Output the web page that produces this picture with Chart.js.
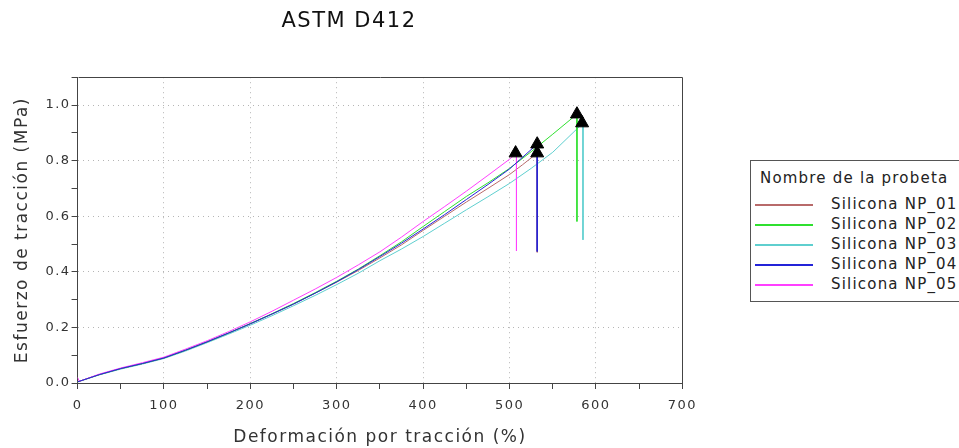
<!DOCTYPE html>
<html>
<head>
<meta charset="utf-8">
<script src="https://cdn.jsdelivr.net/npm/chart.js@4/dist/chart.umd.min.js"></script>
<style>
  html, body { margin: 0; padding: 0; background: #fff; overflow: hidden; }
  #wrap { position: relative; width: 959px; height: 448px; overflow: hidden; }
  #chartBox { position: absolute; left: 0; top: 0; width: 706px; height: 448px; }
  #legend {
    position: absolute; left: 750px; top: 160px; width: 222px; height: 142px;
    border: 1px solid #555; box-sizing: border-box;
    font-family: 'DejaVu Sans', sans-serif; font-size: 15px; letter-spacing: 1.2px; color: #222;
  }
  #legend .ttl { position: absolute; left: 9px; top: 7px; line-height: 20px; white-space: nowrap; }
  #legend .row { position: absolute; left: 0; width: 222px; height: 20px; }
  #legend .ln { position: absolute; left: 4px; top: 10px; width: 58px; height: 2px; }
  #legend .lb { position: absolute; left: 80px; top: 0; line-height: 20px; white-space: nowrap; }
</style>
</head>
<body>
<div id="wrap">
  <div id="chartBox"><canvas id="c"></canvas></div>
  <div id="legend"></div>
</div>
<script>
// nombres y colores de las probetas
const seriesNames = ['Silicona NP_01', 'Silicona NP_02', 'Silicona NP_03', 'Silicona NP_04', 'Silicona NP_05'];
const seriesColors = ['#b86a6a', '#2fe02f', '#5fcfcf', '#2323d8', '#ff40ff'];
// orden de dibujo (menor = encima)
const seriesOrder = [3, 2, 4, 1, 1];

// deformación (%) y esfuerzo (MPa)
const strainNP01 = [0, 25, 50, 75, 100, 125, 150, 175, 200, 225, 250, 275, 300, 325, 350, 375, 400, 425, 450, 475, 500, 515, 532, 532];
const stressNP01 = [0.004, 0.03, 0.052, 0.07, 0.09, 0.118, 0.148, 0.18, 0.213, 0.248, 0.284, 0.323, 0.363, 0.405, 0.45, 0.497, 0.549, 0.6, 0.651, 0.7, 0.75, 0.785, 0.827, 0.47];

const strainNP02 = [0, 25, 50, 75, 100, 125, 150, 175, 200, 225, 250, 275, 300, 325, 350, 375, 400, 425, 450, 475, 500, 525, 550, 578, 578];
const stressNP02 = [0.004, 0.03, 0.052, 0.07, 0.09, 0.118, 0.148, 0.18, 0.214, 0.249, 0.286, 0.325, 0.366, 0.41, 0.458, 0.508, 0.563, 0.617, 0.671, 0.72, 0.772, 0.832, 0.895, 0.967, 0.581];

const strainNP03 = [0, 25, 50, 75, 100, 125, 150, 175, 200, 225, 250, 275, 300, 325, 350, 375, 400, 425, 450, 475, 500, 525, 550, 585, 585];
const stressNP03 = [0.004, 0.029, 0.05, 0.068, 0.088, 0.115, 0.145, 0.176, 0.208, 0.242, 0.278, 0.315, 0.354, 0.395, 0.44, 0.482, 0.527, 0.575, 0.623, 0.67, 0.718, 0.772, 0.83, 0.935, 0.515];

const strainNP04 = [0, 25, 50, 75, 100, 125, 150, 175, 200, 225, 250, 275, 300, 325, 350, 375, 400, 425, 450, 475, 500, 532, 532];
const stressNP04 = [0.004, 0.03, 0.052, 0.07, 0.09, 0.118, 0.148, 0.18, 0.213, 0.248, 0.284, 0.323, 0.364, 0.408, 0.455, 0.503, 0.554, 0.606, 0.66, 0.714, 0.77, 0.859, 0.473];

const strainNP05 = [0, 2, 25, 50, 75, 100, 125, 150, 175, 200, 225, 250, 275, 300, 325, 350, 375, 400, 425, 450, 475, 500, 508, 508];
const stressNP05 = [0.02, 0.006, 0.032, 0.054, 0.073, 0.093, 0.122, 0.152, 0.185, 0.22, 0.258, 0.298, 0.338, 0.38, 0.425, 0.472, 0.525, 0.581, 0.635, 0.69, 0.747, 0.805, 0.827, 0.475];

// puntos de rotura (triángulos)
const breakStrain = [532, 578, 584, 532, 507];
const breakStress = [0.827, 0.967, 0.935, 0.859, 0.827];

const xTicksMax = 700;
const yTicksMax = 1.1;

const allStrain = [strainNP01, strainNP02, strainNP03, strainNP04, strainNP05];
const allStress = [stressNP01, stressNP02, stressNP03, stressNP04, stressNP05];

Chart.defaults.font.family = "'DejaVu Sans', sans-serif";
Chart.defaults.color = '#333';

const datasets = seriesNames.map((name, i) => ({
    label: name,
    data: allStrain[i].map((x, k) => ({ x: x, y: allStress[i][k] })),
    showLine: true,
    borderColor: seriesColors[i],
    backgroundColor: seriesColors[i],
    borderWidth: 1,
    pointRadius: 0,
    tension: 0,
    order: seriesOrder[i]
}));

datasets.push({
    label: 'rotura',
    data: breakStrain.map((x, k) => ({ x: x, y: breakStress[k] })),
    showLine: false,
    pointStyle: 'triangle',
    pointRadius: 7.5,
    backgroundColor: '#000',
    borderColor: '#000',
    borderWidth: 1,
    order: 0
});

// espaciado de letras del texto del lienzo
const spacing = {
    id: 'spacing',
    beforeUpdate(chart) { chart.ctx.letterSpacing = '1.5px'; },
    beforeDraw(chart) { chart.ctx.letterSpacing = '1.5px'; }
};

// marco superior y derecho del área de trazado
const frame = {
    id: 'frame',
    afterDraw(chart) {
        const a = chart.chartArea, ctx = chart.ctx;
        ctx.save();
        ctx.strokeStyle = '#444';
        ctx.lineWidth = 1;
        ctx.beginPath();
        ctx.moveTo(Math.round(a.left) + 0.5, Math.round(a.top) + 0.5);
        ctx.lineTo(Math.round(a.right) + 0.5, Math.round(a.top) + 0.5);
        ctx.lineTo(Math.round(a.right) + 0.5, Math.round(a.bottom) + 0.5);
        ctx.stroke();
        ctx.restore();
    }
};

const evenTenth = v => Math.round(v * 10) % 2 === 0;

new Chart(document.getElementById('c'), {
    type: 'scatter',
    data: { datasets: datasets },
    options: {
        responsive: true,
        maintainAspectRatio: false,
        animation: false,
        layout: { padding: { left: 12, right: 20, top: 6, bottom: 0 } },
        plugins: {
            legend: { display: false },
            tooltip: { enabled: false },
            title: {
                display: true,
                text: 'ASTM D412',
                color: '#111',
                font: { size: 21, weight: 'normal' },
                padding: { top: 3, bottom: 43 }
            }
        },
        scales: {
            x: {
                type: 'linear',
                min: 0,
                max: xTicksMax,
                ticks: {
                    stepSize: 50,
                    color: '#333',
                    font: { size: 13 },
                    padding: 9,
                    maxRotation: 0,
                    autoSkip: false,
                    callback: v => (v % 100 === 0 ? String(v) : '')
                },
                grid: {
                    color: c => (c.tick && c.tick.value % 100 === 0 && c.tick.value > 0 && c.tick.value < xTicksMax) ? '#b5b5b5' : 'rgba(0,0,0,0)',
                    tickColor: '#444',
                    tickLength: 6
                },
                border: { color: '#444', dash: [1, 4] },
                title: {
                    display: true,
                    text: 'Deformación por tracción (%)',
                    color: '#333',
                    font: { size: 17 },
                    padding: { top: 5, bottom: 0 }
                }
            },
            y: {
                min: 0,
                max: yTicksMax,
                ticks: {
                    stepSize: 0.1,
                    color: '#333',
                    font: { size: 13 },
                    padding: 1,
                    autoSkip: false,
                    callback: v => (evenTenth(v) ? v.toFixed(1) : '')
                },
                grid: {
                    color: c => (c.tick && evenTenth(c.tick.value) && c.tick.value > 0.05 && c.tick.value < 1.05) ? '#b5b5b5' : 'rgba(0,0,0,0)',
                    tickColor: '#444',
                    tickLength: 6
                },
                border: { color: '#444', dash: [1, 4] },
                title: {
                    display: true,
                    text: 'Esfuerzo de tracción (MPa)',
                    color: '#333',
                    font: { size: 17 },
                    padding: { top: 0, bottom: 12 }
                }
            }
        }
    },
    plugins: [spacing, frame]
});

// leyenda con recuadro
const legend = document.getElementById('legend');
const ttl = document.createElement('div');
ttl.className = 'ttl';
ttl.textContent = 'Nombre de la probeta';
legend.appendChild(ttl);
seriesNames.forEach((name, i) => {
    const row = document.createElement('div');
    row.className = 'row';
    row.style.top = (33 + i * 20) + 'px';
    const ln = document.createElement('div');
    ln.className = 'ln';
    ln.style.backgroundColor = seriesColors[i];
    const lb = document.createElement('div');
    lb.className = 'lb';
    lb.textContent = name;
    row.appendChild(ln);
    row.appendChild(lb);
    legend.appendChild(row);
});
</script>
</body>
</html>
